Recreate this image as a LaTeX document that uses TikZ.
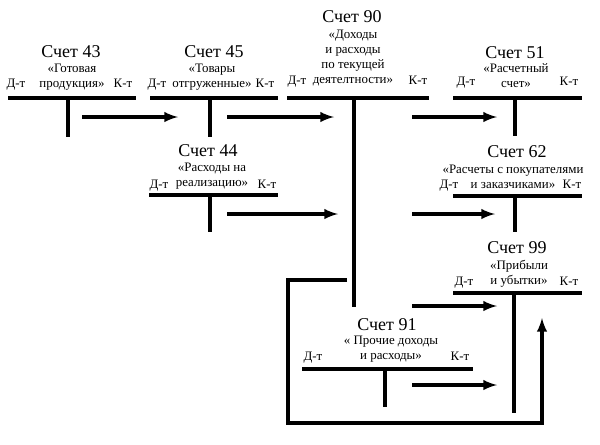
\documentclass[tikz,border=0pt]{standalone}
\usepackage{fontspec}
\setmainfont{Liberation Serif}
\usetikzlibrary{arrows}

\begin{document}
\begin{tikzpicture}[x=0.75pt,y=-0.75pt,line width=2.5pt,
  every node/.style={inner sep=0pt},
  ttl/.style={font=\fontsize{13.5}{16}\selectfont},
  txt/.style={font=\fontsize{9.7}{11.3}\selectfont,align=center},
  dk/.style={font=\fontsize{9.7}{11.3}\selectfont,anchor=base}]
\useasboundingbox (0,0) rectangle (600,444);

% titles
\node[ttl] (t43) at (71,52) {Счет 43};
\node[ttl] (t45) at (214,52) {Счет 45};
\node[ttl] (t90) at (352,17) {Счет 90};
\node[ttl] (t51) at (515,53) {Счет 51};
\node[ttl] (t44) at (208,151) {Счет 44};
\node[ttl] (t62) at (517,152) {Счет 62};
\node[ttl] (t99) at (517,248) {Счет 99};
\node[ttl] (t91) at (387,325) {Счет 91};

% names of the accounts
\node[txt] (n43) at (72,77) {«Готовая\\продукция»};
\node[txt] (n45) at (212,77) {«Товары\\отгруженные»};
\node[txt] (n90) at (353,58) {«Доходы\\и расходы\\по текущей\\деятелтности»};
\node[txt] (n51) at (516,76) {«Расчетный\\счет»};
\node[txt] (n44) at (212,176.5) {«Расходы на\\реализацию»};
\node[txt] (n62) at (513,176.5) {«Расчеты с покупателями\\и заказчиками»};
\node[txt] (n99) at (519,273.5) {«Прибыли\\и убытки»};
\node[txt] (n91) at (391,349.5) {« Прочие доходы\\и расходы»};

% debit / credit
\node[dk] (d43) at (16,87) {Д-т};  \node[dk] (k43) at (123,87) {К-т};
\node[dk] (d45) at (157,87) {Д-т}; \node[dk] (k45) at (265,87) {К-т};
\node[dk] (d90) at (297,84) {Д-т}; \node[dk] (k90) at (418,84) {К-т};
\node[dk] (d51) at (466,85) {Д-т}; \node[dk] (k51) at (569,85) {К-т};
\node[dk] (d44) at (159,188) {Д-т}; \node[dk] (k44) at (267,188) {К-т};
\node[dk] (d62) at (449,188) {Д-т}; \node[dk] (k62) at (572,188) {К-т};
\node[dk] (d99) at (464,285) {Д-т}; \node[dk] (k99) at (569,285) {К-т};
\node[dk] (d91) at (313,360) {Д-т}; \node[dk] (k91) at (460,360) {К-т};

% T-accounts
\coordinate (l43) at (8,98);    \coordinate (r43) at (136,98);
\coordinate (u43) at (68,98);   \coordinate (b43) at (68,137);
\coordinate (l45) at (150,98);  \coordinate (r45) at (278,98);
\coordinate (u45) at (210,98);  \coordinate (b45) at (210,137);
\coordinate (l90) at (287,98);  \coordinate (r90) at (429,98);
\coordinate (u90) at (354,98);  \coordinate (b90) at (354,307);
\coordinate (l51) at (453,98);  \coordinate (r51) at (582,98);
\coordinate (u51) at (515,98);  \coordinate (b51) at (515,136);
\coordinate (l44) at (149,195); \coordinate (r44) at (278,195);
\coordinate (u44) at (210,195); \coordinate (b44) at (210,232);
\coordinate (l62) at (453,196); \coordinate (r62) at (582,196);
\coordinate (u62) at (515,196); \coordinate (b62) at (515,232);
\coordinate (l99) at (453,293); \coordinate (r99) at (582,293);
\coordinate (u99) at (514,293); \coordinate (b99) at (514,413);
\coordinate (l91) at (302,369); \coordinate (r91) at (473,369);
\coordinate (u91) at (385,369); \coordinate (b91) at (385,407);
\foreach \a in {43,45,90,51,44,62,99,91}
  \draw (l\a)--(r\a) (u\a)--(b\a);

% postings
\coordinate (s1) at (82,117);  \coordinate (e1) at (178,117);
\coordinate (s2) at (227,117); \coordinate (e2) at (334,117);
\coordinate (s3) at (412,117); \coordinate (e3) at (497,117);
\coordinate (s4) at (227,214); \coordinate (e4) at (338,214);
\coordinate (s5) at (412,214); \coordinate (e5) at (495,214);
\coordinate (s6) at (412,306); \coordinate (e6) at (497,306);
\coordinate (s7) at (412,385); \coordinate (e7) at (497,385);
\foreach \i in {1,...,7}
  \draw[-latex] (s\i)--(e\i);

\coordinate (s8) at (347,280); \coordinate (e8) at (542,318);
\draw[-latex] (s8)--(288,280)--(288,423)--(542,423)--(e8);
\end{tikzpicture}
\end{document}
